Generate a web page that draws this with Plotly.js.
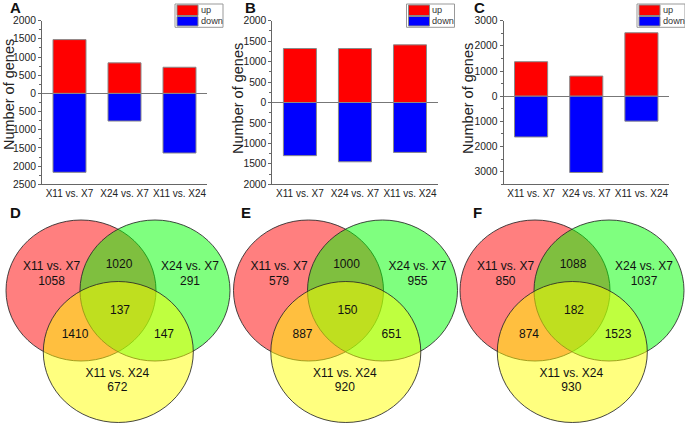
<!DOCTYPE html>
<html>
<head>
<meta charset="utf-8">
<script src="https://cdn.plot.ly/plotly-3.0.1.min.js"></script>
<style>html,body{margin:0;padding:0;background:#fff}</style>
</head>
<body>
<div id="chart" style="width:685px;height:423px"></div>
<script>
const comparisons = ['X11 vs. X7', 'X24 vs. X7', 'X11 vs. X24'];

// A-C: number of up / down regulated genes per comparison
const upA = [1480, 840, 720];
const downA = [2170, 760, 1640];
const upB = [1320, 1320, 1410];
const downB = [1300, 1450, 1220];
const upC = [1370, 800, 2520];
const downC = [1620, 3030, 990];

// D-F: venn regions in this order:
// X11vsX7 only, X24vsX7 only, X11vsX24 only, X11vsX7&X24vsX7, X11vsX7&X11vsX24, X24vsX7&X11vsX24, all three
const vennD = [1058, 291, 672, 1020, 1410, 147, 137];
const vennE = [579, 955, 920, 1000, 887, 651, 150];
const vennF = [850, 1037, 930, 1088, 874, 1523, 182];

const upColor = '#ff0000';
const downColor = '#0000ff';
const vennColors = ['rgba(255,0,0,0.5)', 'rgba(0,255,0,0.5)', 'rgba(255,255,0,0.5)'];

const W = 685, H = 423;
const FONT = 'Arial, "Liberation Sans", sans-serif';
const px = x => x / W;
const py = y => 1 - y / H;

const barPanels = [
  { up: upA, down: downA, left: 42, right: 207, range: [-2500, 2000], major: 500, minor: 250,
    letter: 'A', letterX: 15, legendX: 175, titleX: 9, titleY: 95 },
  { up: upB, down: downB, left: 272.4, right: 437.5, range: [-2000, 2000], major: 500, minor: 250,
    letter: 'B', letterX: 250.7, legendX: 406.5, titleX: 238, titleY: 99 },
  { up: upC, down: downC, left: 503.5, right: 669, range: [-3500, 3000], major: 1000, minor: 500,
    letter: 'C', letterX: 479, legendX: 637, titleX: 468, titleY: 99 }
];

const data = [];
const layout = {
  width: W, height: H,
  margin: { l: 0, r: 0, t: 0, b: 0 },
  paper_bgcolor: '#fff', plot_bgcolor: 'rgba(0,0,0,0)',
  barmode: 'relative',
  showlegend: false,
  hovermode: false,
  font: { family: FONT, color: '#222' },
  shapes: [],
  annotations: []
};

const yTop = 20.7, yBottom = 184.3;

barPanels.forEach((p, i) => {
  const n = i === 0 ? '' : String(i + 1);
  const xa = 'x' + n, ya = 'y' + n;
  const barLine = { color: '#8a8a8a', width: 1 };

  data.push({
    type: 'bar', x: comparisons, y: p.up, xaxis: xa, yaxis: ya, width: 0.6,
    marker: { color: upColor, line: barLine }, name: 'up'
  });
  data.push({
    type: 'bar', x: comparisons, y: p.down.map(v => -v), xaxis: xa, yaxis: ya, width: 0.6,
    marker: { color: downColor, line: barLine }, name: 'down'
  });

  const tickvals = [];
  for (let v = Math.ceil(p.range[0] / p.major) * p.major; v <= p.range[1]; v += p.major) tickvals.push(v);

  layout['xaxis' + n] = {
    domain: [px(p.left), px(p.right)], anchor: ya, type: 'category', range: [-0.5, 2.5],
    showline: true, linecolor: '#666', linewidth: 1, ticks: '', showgrid: false, zeroline: false,
    tickangle: 0, tickfont: { size: 10, color: '#222' }, fixedrange: true
  };
  layout['yaxis' + n] = {
    domain: [py(yBottom), py(yTop)], anchor: xa, range: p.range,
    tickvals: tickvals, ticktext: tickvals.map(v => String(Math.abs(v))),
    ticks: 'outside', ticklen: 3, tickcolor: '#666',
    showline: true, linecolor: '#666', linewidth: 1, showgrid: false,
    zeroline: true, zerolinecolor: '#777', zerolinewidth: 1,
    minor: { dtick: p.minor, ticks: 'outside', ticklen: 2, tickcolor: '#666' },
    tickfont: { size: 10.3, color: '#222' }, fixedrange: true
  };

  // panel letter and axis title
  layout.annotations.push({
    xref: 'paper', yref: 'paper', x: px(p.letterX), y: py(7), text: '<b>' + p.letter + '</b>',
    showarrow: false, font: { size: 15, color: '#111' }, xanchor: 'center', yanchor: 'middle'
  });
  layout.annotations.push({
    xref: 'paper', yref: 'paper', x: px(p.titleX), y: py(p.titleY), text: 'Number of genes',
    textangle: -90, showarrow: false, font: { size: 14.5, color: '#222' }, xanchor: 'center', yanchor: 'middle'
  });

  // legend box
  const lx = p.legendX;
  layout.shapes.push({ type: 'rect', xref: 'paper', yref: 'paper', x0: px(lx), x1: px(lx + 48),
    y0: py(27.3), y1: py(4), line: { color: '#999', width: 1 }, fillcolor: '#fff' });
  [[upColor, 5, 15.5, 'up'], [downColor, 16.5, 26, 'down']].forEach(([c, t, b, label]) => {
    layout.shapes.push({ type: 'rect', xref: 'paper', yref: 'paper', x0: px(lx + 2), x1: px(lx + 23),
      y0: py(b), y1: py(t), line: { color: '#888', width: 1 }, fillcolor: c });
    layout.annotations.push({ xref: 'paper', yref: 'paper', x: px(lx + 23.5), y: py((t + b) / 2),
      text: label, showarrow: false, xanchor: 'left', yanchor: 'middle', font: { size: 9.2, color: '#333' } });
  });
});

// Venn panels share one pixel-scaled axis pair
layout.xaxis4 = { domain: [0, 1], range: [0, W], visible: false, anchor: 'y4', fixedrange: true };
layout.yaxis4 = { domain: [0, py(196)], range: [H, 196], visible: false, anchor: 'x4', fixedrange: true };

const circles = [[81, 290.5], [155, 290.5], [118.3, 352]];
const rx = 75, ry = 70.5;
const regionX = [51.5, 190, 117.3, 119, 75, 164, 120];
const regionY = [282.2, 282.2, 388.3, 265.3, 334.5, 334.5, 310.8];
const labelX = [51.5, 190, 117.3];
const labelY = [267, 267, 374];

const vennPanels = [
  { counts: vennD, dx: 0, letter: 'D', letterX: 15 },
  { counts: vennE, dx: 227.5, letter: 'E', letterX: 246 },
  { counts: vennF, dx: 454, letter: 'F', letterX: 477 }
];

vennPanels.forEach(v => {
  circles.forEach(([cx, cy], k) => {
    layout.shapes.push({
      type: 'circle', xref: 'x4', yref: 'y4', layer: 'below',
      x0: cx - rx + v.dx, x1: cx + rx + v.dx, y0: cy - ry, y1: cy + ry,
      fillcolor: vennColors[k], line: { color: 'rgba(40,40,40,0.85)', width: 1 }
    });
  });
  data.push({
    type: 'scatter', mode: 'text', xaxis: 'x4', yaxis: 'y4',
    x: labelX.map(x => x + v.dx), y: labelY, text: comparisons,
    textfont: { size: 12, color: '#111', family: FONT }, hoverinfo: 'skip'
  });
  data.push({
    type: 'scatter', mode: 'text', xaxis: 'x4', yaxis: 'y4',
    x: regionX.map(x => x + v.dx), y: regionY, text: v.counts.map(String),
    textfont: { size: 12, color: '#111', family: FONT }, hoverinfo: 'skip'
  });
  layout.annotations.push({
    xref: 'paper', yref: 'paper', x: px(v.letterX), y: py(213), text: '<b>' + v.letter + '</b>',
    showarrow: false, font: { size: 15, color: '#111' }, xanchor: 'center', yanchor: 'middle'
  });
});

Plotly.newPlot('chart', data, layout, { displayModeBar: false, staticPlot: true });
</script>
</body>
</html>
